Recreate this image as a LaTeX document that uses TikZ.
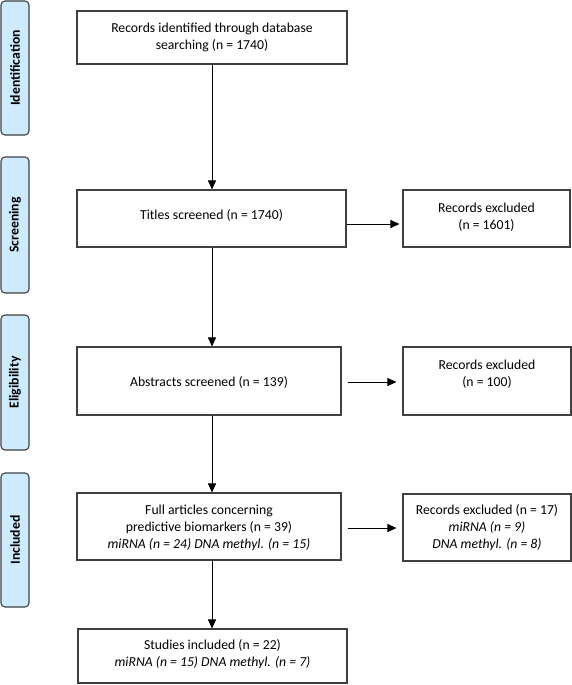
\documentclass[tikz,border=0pt]{standalone}
\usepackage{fontspec}
\setmainfont{Carlito}
\usetikzlibrary{arrows.meta}
\definecolor{sideblue}{RGB}{206,234,253}
\definecolor{boxgray}{RGB}{64,64,64}
\begin{document}
\begin{tikzpicture}[x=1pt,y=-1pt,
  box/.style={draw=boxgray,line width=1.1pt,fill=white,inner sep=0pt},
  txt/.style={align=center,inner sep=0pt,font=\fontsize{13.7}{17}\selectfont},
  side/.style={draw=boxgray,fill=sideblue,line width=1.1pt,rounded corners=4pt,rotate=90,inner sep=0pt,font=\fontsize{13.7}{17}\selectfont\bfseries},
  arr/.style={-{Triangle[length=9pt,width=8pt]},line width=0.9pt,black}]
\useasboundingbox (0,0) rectangle (572,685);

% side labels
\node[side,minimum width=134pt,minimum height=28pt] (s1) at (15,68) {Identification};
\node[side,minimum width=136pt,minimum height=28pt] (s2) at (15,225) {Screening};
\node[side,minimum width=135pt,minimum height=28pt] (s3) at (15,382.5) {Eligibility};
\node[side,minimum width=134pt,minimum height=28pt] (s4) at (15,540) {Included};

% boxes
\node[box,minimum width=270pt,minimum height=53pt] (b1) at (212,37.5) {};
\node[txt] (t1) at (212,37.5) {Records identified through database\\searching (n = 1740)};

\node[box,minimum width=269pt,minimum height=57pt] (b2) at (211.5,218.5) {};
\node[txt] (t2) at (211.5,215) {Titles screened (n = 1740)};

\node[box,minimum width=167pt,minimum height=57pt] (e1) at (486.5,218.5) {};
\node[txt] (te1) at (486.5,217.5) {Records excluded\\(n = 1601)};

\node[box,minimum width=264pt,minimum height=68pt] (b3) at (209,381) {};
\node[txt] (t3) at (209,382) {Abstracts screened (n = 139)};

\node[box,minimum width=168pt,minimum height=68pt] (e2) at (487,381) {};
\node[txt] (te2) at (487,374.5) {Records excluded\\(n = 100)};

\node[box,minimum width=264pt,minimum height=67pt] (b4) at (209,526.5) {};
\node[txt] (t4) at (209,528) {Full articles concerning\\predictive biomarkers (n = 39)\\\textit{miRNA (n = 24) DNA methyl. (n = 15)}};

\node[box,minimum width=168pt,minimum height=67pt] (e3) at (487,527.5) {};
\node[txt] (te3) at (487,528) {Records excluded (n = 17)\\\textit{miRNA (n = 9)}\\\textit{DNA methyl. (n = 8)}};

\node[box,minimum width=269pt,minimum height=54pt] (b5) at (212.5,656) {};
\node[txt] (t5) at (212.5,654.5) {Studies included (n = 22)\\\textit{miRNA (n = 15) DNA methyl. (n = 7)}};

% connectors
\coordinate (cx) at (212,0);
\draw[arr] (b1.south -| cx) -- (b2.north -| cx);
\draw[arr] (b2.south -| cx) -- (b3.north -| cx);
\draw[arr] (b3.south -| cx) -- (b4.north -| cx);
\draw[arr] (b4.south -| cx) -- (b5.north -| cx);

\draw[arr,shorten >=3pt] ([yshift=-5.5pt]b2.east) -- ([yshift=-5.5pt]b2.east -| e1.west);
\draw[arr,shorten >=6pt] ([xshift=6pt,yshift=-1pt]b3.east) -- ([yshift=-1pt]b3.east -| e2.west);
\draw[arr,shorten >=6pt] ([xshift=6pt,yshift=-1.5pt]b4.east) -- ([yshift=-1.5pt]b4.east -| e3.west);
\end{tikzpicture}
\end{document}
